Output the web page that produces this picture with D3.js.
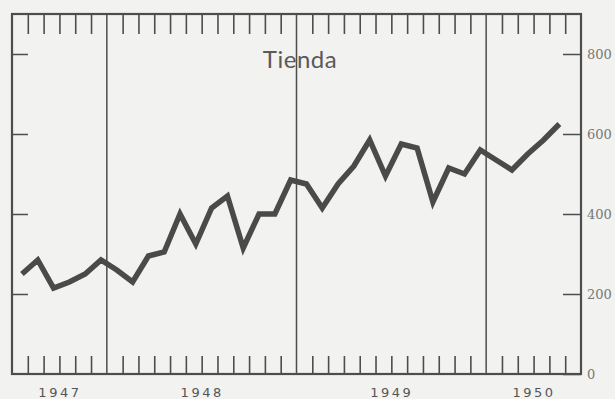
<!DOCTYPE html>
<html>
<head>
<meta charset="utf-8">
<script src="https://cdn.jsdelivr.net/npm/d3@7"></script>
<style>
  html, body { margin: 0; padding: 0; background: #f2f2f0; }
  svg { display: block; }
</style>
</head>
<body>
<div id="chart"></div>
<script>
// monthly sales, Jul 1947 .. May 1950
const months = [
  "1947-07", "1947-08", "1947-09", "1947-10", "1947-11", "1947-12",
  "1948-01", "1948-02", "1948-03", "1948-04", "1948-05", "1948-06",
  "1948-07", "1948-08", "1948-09", "1948-10", "1948-11", "1948-12",
  "1949-01", "1949-02", "1949-03", "1949-04", "1949-05", "1949-06",
  "1949-07", "1949-08", "1949-09", "1949-10", "1949-11", "1949-12",
  "1950-01", "1950-02", "1950-03", "1950-04", "1950-05"
];
const values = [
  250, 285, 215, 230, 250, 285,
  260, 230, 295, 305, 400, 325,
  415, 445, 315, 400, 400, 485,
  475, 415, 475, 520, 585, 495,
  575, 565, 430, 515, 500, 560,
  535, 510, 550, 585, 625
];
const yearLabels = ["1947", "1948", "1949", "1950"];
const yearStart = ["1947-07", "1948-01", "1949-01", "1950-01"];
const yTicks = [0, 200, 400, 600, 800];
const title = "Tienda";

const width = 615, height = 399;
const margin = { top: 14, right: 34, bottom: 25, left: 12 };
const ink = "#4d4d4d";

// month index on the x axis, the window runs from Jul 1947 to Jul 1950
const firstYear = 1947, firstMonth = 7;
function monthIndex(s) {
  const [y, m] = s.split("-").map(Number);
  return (y - firstYear) * 12 + (m - firstMonth);
}
const totalMonths = 36;

const x = d3.scaleLinear()
  .domain([0, totalMonths])
  .range([margin.left, width - margin.right]);
const y = d3.scaleLinear()
  .domain([0, 900])
  .range([height - margin.bottom, margin.top]);

const svg = d3.select("#chart").append("svg")
  .attr("width", width)
  .attr("height", height)
  .attr("viewBox", `0 0 ${width} ${height}`);

svg.append("rect")
  .attr("width", width)
  .attr("height", height)
  .attr("fill", "#f2f2f0");

const yearBreaks = yearStart.slice(1).map(monthIndex);
const monthTicks = d3.range(1, totalMonths).filter(m => !yearBreaks.includes(m));

// month ticks, top and bottom, pointing inward
svg.append("g")
  .attr("transform", `translate(0,${y(900)})`)
  .call(d3.axisTop(x).tickValues(monthTicks).tickSizeInner(-20).tickSizeOuter(0).tickFormat(""))
  .call(g => g.select(".domain").remove())
  .selectAll("line").attr("stroke", ink).attr("stroke-width", 1.6);

svg.append("g")
  .attr("transform", `translate(0,${y(0)})`)
  .call(d3.axisBottom(x).tickValues(monthTicks).tickSizeInner(-18).tickSizeOuter(0).tickFormat(""))
  .call(g => g.select(".domain").remove())
  .selectAll("line").attr("stroke", ink).attr("stroke-width", 1.6);

// year labels centred on each year's span
const yearMid = yearStart.map((s, i) => {
  const a = monthIndex(s);
  const b = i + 1 < yearStart.length ? monthIndex(yearStart[i + 1]) : totalMonths;
  return (a + b) / 2;
});
svg.append("g")
  .attr("transform", `translate(0,${y(0)})`)
  .call(d3.axisBottom(x).tickValues(yearMid).tickSize(0).tickPadding(14)
    .tickFormat((d, i) => yearLabels[i]))
  .call(g => g.select(".domain").remove())
  .selectAll("text")
  .attr("fill", "#555")
  .attr("font-family", "DejaVu Sans, sans-serif")
  .attr("font-size", 13)
  .attr("letter-spacing", 2.5);

// left ticks without labels
svg.append("g")
  .attr("transform", `translate(${x(0)},0)`)
  .call(d3.axisLeft(y).tickValues(yTicks.slice(1)).tickSizeInner(-16).tickSizeOuter(0).tickFormat(""))
  .call(g => g.select(".domain").remove())
  .selectAll("line").attr("stroke", ink).attr("stroke-width", 1.5);

// right ticks point inward, labels outside
const right = svg.append("g")
  .attr("transform", `translate(${x(totalMonths)},0)`)
  .call(d3.axisRight(y).tickValues(yTicks).tickSizeInner(-18).tickSizeOuter(0).tickPadding(6))
  .call(g => g.select(".domain").remove());
right.selectAll("line").attr("stroke", ink).attr("stroke-width", 1.5);
right.selectAll("text")
  .attr("fill", "#777")
  .attr("font-family", "DejaVu Serif, serif")
  .attr("font-size", 13);

// year dividers
svg.append("g").selectAll("line")
  .data(yearBreaks)
  .enter().append("line")
  .attr("x1", d => x(d)).attr("x2", d => x(d))
  .attr("y1", y(900)).attr("y2", y(0))
  .attr("stroke", ink)
  .attr("stroke-width", 1.5);

// frame
svg.append("rect")
  .attr("x", x(0))
  .attr("y", y(900))
  .attr("width", x(totalMonths) - x(0))
  .attr("height", y(0) - y(900))
  .attr("fill", "none")
  .attr("stroke", ink)
  .attr("stroke-width", 2.2);

svg.append("text")
  .attr("x", 300)
  .attr("y", 68)
  .attr("text-anchor", "middle")
  .attr("fill", "#5a5a5a")
  .attr("font-family", "Lato, sans-serif")
  .attr("font-size", 24)
  .attr("letter-spacing", 0.5)
  .text(title);

// the series: plotted a little past mid-month, as on the original sheet
const line = d3.line()
  .x((d, i) => x(monthIndex(months[i]) + 0.63))
  .y(d => y(d));

svg.append("path")
  .datum(values)
  .attr("d", line)
  .attr("fill", "none")
  .attr("stroke", "#4a4a4a")
  .attr("stroke-width", 5.5)
  .attr("stroke-linejoin", "miter");
</script>
</body>
</html>
